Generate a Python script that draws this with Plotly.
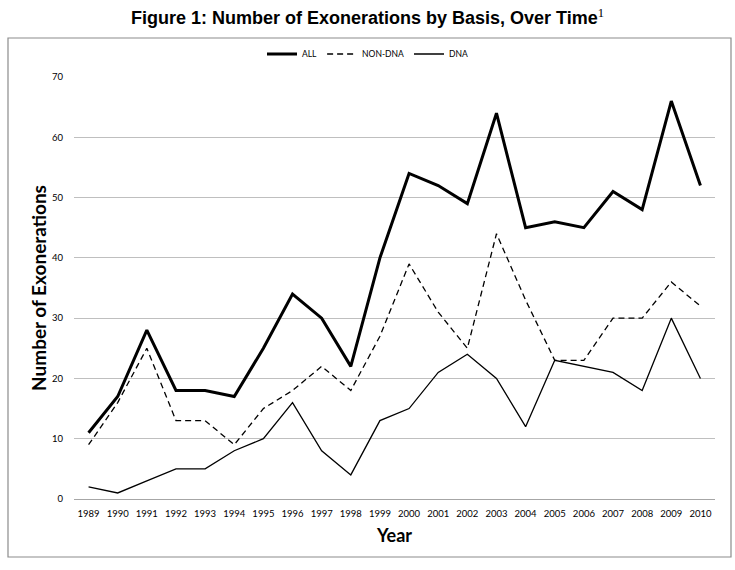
import plotly.graph_objects as go

years = [str(y) for y in range(1989, 2011)]
all_vals = [11, 17, 28, 18, 18, 17, 25, 34, 30, 22, 40, 54, 52, 49, 64, 45, 46, 45, 51, 48, 66, 52]
non_dna = [9, 16, 25, 13, 13, 9, 15, 18, 22, 18, 27, 39, 31, 25, 44, 33, 23, 23, 30, 30, 36, 32]
dna = [2, 1, 3, 5, 5, 8, 10, 16, 8, 4, 13, 15, 21, 24, 20, 12, 23, 22, 21, 18, 30, 20]
y_ticks = [0, 10, 20, 30, 40, 50, 60, 70]

fig = go.Figure()
fig.add_trace(go.Scatter(x=years, y=all_vals, name="ALL", mode="lines",
                         line=dict(color="black", width=3)))
fig.add_trace(go.Scatter(x=years, y=non_dna, name="NON-DNA", mode="lines",
                         line=dict(color="black", width=1.3, dash="6px,4px")))
fig.add_trace(go.Scatter(x=years, y=dna, name="DNA", mode="lines",
                         line=dict(color="black", width=1.3)))

L, R, T, B = 74, 20, 77, 71
W, H = 735, 570
pw, ph = W - L - R, H - T - B

def px_x(x):
    return (x - L) / pw

def px_y(y):
    return (H - B - y) / ph

fig.add_shape(type="rect", xref="paper", yref="paper",
              x0=px_x(8), x1=px_x(731), y0=px_y(557), y1=px_y(38),
              line=dict(color="#8c8c8c", width=1.2), fillcolor="rgba(0,0,0,0)", layer="below")

fig.update_layout(
    width=W, height=H,
    margin=dict(l=L, r=R, t=T, b=B, autoexpand=False),
    paper_bgcolor="white", plot_bgcolor="white",
    font=dict(family="Lato, sans-serif", color="black"),
    title=dict(text="<b>Figure 1: Number of Exonerations by Basis, Over Time</b><sup><span style='font-family:Liberation Serif'>1</span></sup>",
               x=0.5, xref="container", xanchor="center", y=1 - 18 / H, yanchor="middle",
               font=dict(family="Liberation Sans, Arial, sans-serif", size=18, color="black")),
    showlegend=True,
    legend=dict(orientation="h", x=0.5, xanchor="center", xref="container",
                y=1 - 54 / H, yref="container", yanchor="middle",
                font=dict(size=8.5, family="Lato, sans-serif"), itemwidth=30,
                bgcolor="rgba(0,0,0,0)"),
    xaxis=dict(type="category", range=[-0.5, 21.5], showgrid=False, automargin=False,
               showline=True, linecolor="#a6a6a6", linewidth=1,
               ticks="", tickfont=dict(size=9.5), ticklabelstandoff=6,
               title=dict(text="<b>Year</b>", font=dict(size=18), standoff=10)),
    yaxis=dict(range=[0, 70], tickvals=y_ticks, showgrid=True, gridcolor="#bfbfbf",
               gridwidth=1, zeroline=False, showline=False, ticks="", automargin=False,
               tickfont=dict(size=9.5), ticklabelstandoff=10,
               title=dict(text="<b>Number of Exonerations</b>", font=dict(size=19), standoff=0)),
)

fig.write_html("out.html", config={"displayModeBar": False},
               post_script="document.body.style.margin='0';")
